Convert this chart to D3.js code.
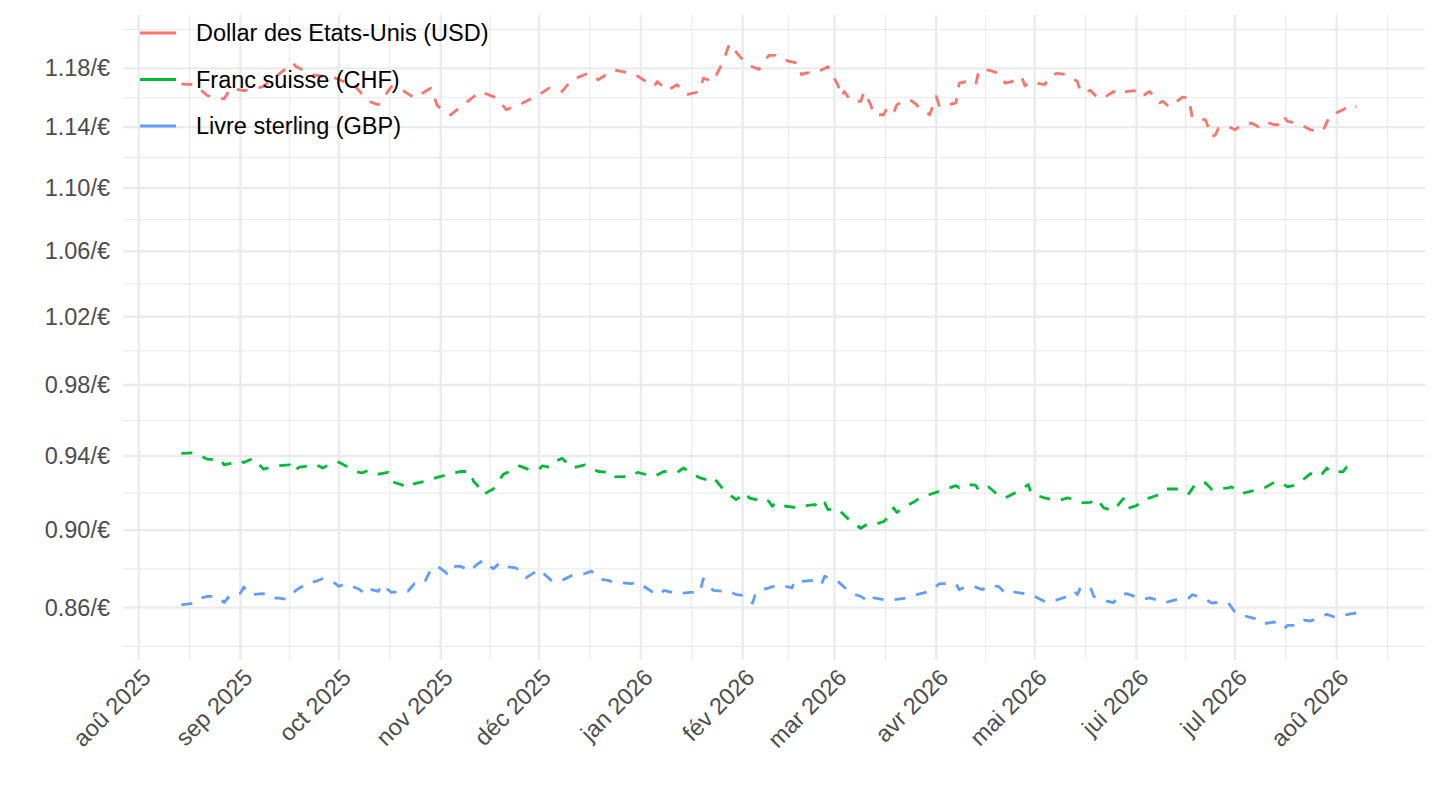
<!DOCTYPE html>
<html lang="fr">
<head>
<meta charset="utf-8">
<title>Taux de change</title>
<script src="https://cdnjs.cloudflare.com/ajax/libs/d3/7.8.5/d3.min.js"></script>
<style>
  body { margin: 0; background: #fff; }
  svg { display: block; font-family: "Liberation Sans", Arial, sans-serif; }
</style>
</head>
<body>
<div id="chart"></div>
<script>
// series names, in legend order
var seriesNames = ["Dollar des Etats-Unis (USD)", "Franc suisse (CHF)", "Livre sterling (GBP)"];
var seriesColors = ["#F8766D", "#00BA38", "#619CFF"];

// x tick labels (first of each month)
var monthTicks = ["2025-08-01", "2025-09-01", "2025-10-01", "2025-11-01", "2025-12-01", "2026-01-01",
  "2026-02-01", "2026-03-01", "2026-04-01", "2026-05-01", "2026-06-01", "2026-07-01", "2026-08-01"];
var monthLabels = ["aoû 2025", "sep 2025", "oct 2025", "nov 2025", "déc 2025", "jan 2026",
  "fév 2026", "mar 2026", "avr 2026", "mai 2026", "jui 2026", "jul 2026", "aoû 2026"];

// y ticks (rate per euro)
var rateTicks = [0.86, 0.90, 0.94, 0.98, 1.02, 1.06, 1.10, 1.14, 1.18];

// USD per euro
var usd = [
  ["2025-08-14", 1.1692], ["2025-08-18", 1.1687], ["2025-08-22", 1.1612], ["2025-08-27", 1.1590],
  ["2025-08-29", 1.1664], ["2025-09-02", 1.1646], ["2025-09-04", 1.1653], ["2025-09-08", 1.1675],
  ["2025-09-17", 1.1838], ["2025-09-18", 1.1811], ["2025-09-23", 1.1755], ["2025-09-30", 1.1732],
  ["2025-10-06", 1.1675], ["2025-10-10", 1.1574], ["2025-10-13", 1.1551], ["2025-10-17", 1.1675],
  ["2025-10-21", 1.1641], ["2025-10-24", 1.1597], ["2025-10-29", 1.1664], ["2025-10-31", 1.1544],
  ["2025-11-04", 1.1483], ["2025-11-08", 1.1551], ["2025-11-13", 1.1641], ["2025-11-18", 1.1597],
  ["2025-11-21", 1.1517], ["2025-11-26", 1.1563], ["2025-12-01", 1.1619], ["2025-12-04", 1.1664],
  ["2025-12-08", 1.1641], ["2025-12-11", 1.1721], ["2025-12-16", 1.1766], ["2025-12-19", 1.1721],
  ["2025-12-22", 1.1766], ["2025-12-24", 1.1788], ["2025-12-30", 1.1761], ["2026-01-05", 1.1675],
  ["2026-01-06", 1.1709], ["2026-01-09", 1.1646], ["2026-01-12", 1.1687], ["2026-01-15", 1.1619],
  ["2026-01-19", 1.1641], ["2026-01-20", 1.1732], ["2026-01-23", 1.1709], ["2026-01-26", 1.1845],
  ["2026-01-28", 1.1970], ["2026-01-29", 1.1958], ["2026-01-30", 1.1913], ["2026-02-02", 1.1834],
  ["2026-02-04", 1.1811], ["2026-02-06", 1.1793], ["2026-02-09", 1.1890], ["2026-02-11", 1.1890],
  ["2026-02-13", 1.1861], ["2026-02-16", 1.1845], ["2026-02-18", 1.1834], ["2026-02-19", 1.1755],
  ["2026-02-20", 1.1766], ["2026-02-24", 1.1777], ["2026-02-25", 1.1788], ["2026-02-27", 1.1811],
  ["2026-03-02", 1.1687], ["2026-03-03", 1.1607], ["2026-03-04", 1.1641], ["2026-03-06", 1.1574],
  ["2026-03-09", 1.1574], ["2026-03-10", 1.1641], ["2026-03-12", 1.1551], ["2026-03-13", 1.1483],
  ["2026-03-16", 1.1483], ["2026-03-17", 1.1529], ["2026-03-19", 1.1495], ["2026-03-20", 1.1551],
  ["2026-03-23", 1.1585], ["2026-03-24", 1.1585], ["2026-03-26", 1.1551], ["2026-03-27", 1.1522],
  ["2026-03-30", 1.1483], ["2026-04-01", 1.1607], ["2026-04-02", 1.1536], ["2026-04-07", 1.1563],
  ["2026-04-08", 1.1698], ["2026-04-10", 1.1709], ["2026-04-13", 1.1687], ["2026-04-14", 1.1788],
  ["2026-04-17", 1.1788], ["2026-04-20", 1.1766], ["2026-04-22", 1.1698], ["2026-04-24", 1.1709],
  ["2026-04-27", 1.1743], ["2026-04-28", 1.1680], ["2026-04-30", 1.1709], ["2026-05-04", 1.1687],
  ["2026-05-06", 1.1755], ["2026-05-08", 1.1766], ["2026-05-11", 1.1755], ["2026-05-14", 1.1709],
  ["2026-05-15", 1.1635], ["2026-05-18", 1.1648], ["2026-05-20", 1.1601], ["2026-05-22", 1.1597],
  ["2026-05-25", 1.1641], ["2026-05-28", 1.1619], ["2026-05-29", 1.1641], ["2026-06-02", 1.1648],
  ["2026-06-03", 1.1612], ["2026-06-05", 1.1641], ["2026-06-08", 1.1563], ["2026-06-09", 1.1574],
  ["2026-06-11", 1.1536], ["2026-06-12", 1.1551], ["2026-06-15", 1.1603], ["2026-06-17", 1.1597],
  ["2026-06-18", 1.1461], ["2026-06-22", 1.1450], ["2026-06-24", 1.1336], ["2026-06-25", 1.1348],
  ["2026-06-26", 1.1393], ["2026-06-29", 1.1404], ["2026-07-01", 1.1382], ["2026-07-03", 1.1416],
  ["2026-07-06", 1.1427], ["2026-07-08", 1.1404], ["2026-07-10", 1.1438], ["2026-07-13", 1.1416],
  ["2026-07-15", 1.1416], ["2026-07-16", 1.1468], ["2026-07-17", 1.1438], ["2026-07-20", 1.1427],
  ["2026-07-24", 1.1382], ["2026-07-27", 1.1370], ["2026-07-28", 1.1382], ["2026-07-30", 1.1483],
  ["2026-07-31", 1.1488], ["2026-08-03", 1.1517], ["2026-08-05", 1.1551], ["2026-08-07", 1.1536]
];

// CHF per euro
var chf = [
  ["2025-08-14", 0.9415], ["2025-08-18", 0.9418], ["2025-08-22", 0.9382], ["2025-08-26", 0.9382],
  ["2025-08-27", 0.9351], ["2025-08-29", 0.9360], ["2025-09-01", 0.9375], ["2025-09-02", 0.9364],
  ["2025-09-05", 0.9388], ["2025-09-08", 0.9328], ["2025-09-12", 0.9346], ["2025-09-16", 0.9351],
  ["2025-09-17", 0.9315], ["2025-09-19", 0.9339], ["2025-09-22", 0.9346], ["2025-09-24", 0.9339],
  ["2025-09-25", 0.9346], ["2025-09-26", 0.9334], ["2025-09-29", 0.9361], ["2025-10-01", 0.9366],
  ["2025-10-03", 0.9346], ["2025-10-06", 0.9315], ["2025-10-08", 0.9307], ["2025-10-10", 0.9321],
  ["2025-10-13", 0.9301], ["2025-10-16", 0.9310], ["2025-10-17", 0.9261], ["2025-10-20", 0.9244],
  ["2025-10-22", 0.9226], ["2025-10-24", 0.9249], ["2025-10-27", 0.9261], ["2025-10-31", 0.9283],
  ["2025-11-03", 0.9298], ["2025-11-07", 0.9315], ["2025-11-10", 0.9315], ["2025-11-11", 0.9261],
  ["2025-11-12", 0.9244], ["2025-11-14", 0.9190], ["2025-11-17", 0.9220], ["2025-11-19", 0.9271],
  ["2025-11-20", 0.9298], ["2025-11-24", 0.9334], ["2025-11-25", 0.9346], ["2025-11-28", 0.9325],
  ["2025-12-01", 0.9328], ["2025-12-02", 0.9346], ["2025-12-04", 0.9339], ["2025-12-05", 0.9361],
  ["2025-12-08", 0.9388], ["2025-12-11", 0.9334], ["2025-12-15", 0.9351], ["2025-12-19", 0.9315],
  ["2025-12-22", 0.9310], ["2025-12-23", 0.9285], ["2025-12-29", 0.9288], ["2025-12-31", 0.9310],
  ["2026-01-05", 0.9288], ["2026-01-08", 0.9315], ["2026-01-12", 0.9310], ["2026-01-14", 0.9334],
  ["2026-01-16", 0.9310], ["2026-01-19", 0.9280], ["2026-01-21", 0.9271], ["2026-01-23", 0.9285],
  ["2026-01-26", 0.9220], ["2026-01-28", 0.9190], ["2026-01-30", 0.9163], ["2026-02-02", 0.9199],
  ["2026-02-03", 0.9172], ["2026-02-05", 0.9163], ["2026-02-06", 0.9175], ["2026-02-09", 0.9154],
  ["2026-02-10", 0.9127], ["2026-02-11", 0.9145], ["2026-02-13", 0.9130], ["2026-02-16", 0.9123],
  ["2026-02-18", 0.9118], ["2026-02-20", 0.9130], ["2026-02-23", 0.9136], ["2026-02-25", 0.9118],
  ["2026-02-26", 0.9145], ["2026-02-27", 0.9109], ["2026-03-02", 0.9113], ["2026-03-06", 0.9046],
  ["2026-03-09", 0.9010], ["2026-03-11", 0.9032], ["2026-03-13", 0.9028], ["2026-03-16", 0.9046],
  ["2026-03-18", 0.9077], ["2026-03-19", 0.9118], ["2026-03-20", 0.9094], ["2026-03-23", 0.9130],
  ["2026-03-25", 0.9148], ["2026-03-27", 0.9172], ["2026-03-30", 0.9190], ["2026-04-02", 0.9208],
  ["2026-04-07", 0.9238], ["2026-04-08", 0.9226], ["2026-04-10", 0.9244], ["2026-04-13", 0.9241],
  ["2026-04-14", 0.9210], ["2026-04-17", 0.9231], ["2026-04-20", 0.9184], ["2026-04-22", 0.9172],
  ["2026-04-23", 0.9181], ["2026-04-25", 0.9199], ["2026-04-27", 0.9217], ["2026-04-29", 0.9244],
  ["2026-04-30", 0.9195], ["2026-05-04", 0.9172], ["2026-05-08", 0.9157], ["2026-05-11", 0.9172],
  ["2026-05-13", 0.9163], ["2026-05-15", 0.9145], ["2026-05-18", 0.9148], ["2026-05-20", 0.9167],
  ["2026-05-22", 0.9118], ["2026-05-25", 0.9104], ["2026-05-28", 0.9168], ["2026-05-29", 0.9114],
  ["2026-06-01", 0.9130], ["2026-06-03", 0.9163], ["2026-06-05", 0.9172], ["2026-06-08", 0.9190],
  ["2026-06-10", 0.9220], ["2026-06-11", 0.9220], ["2026-06-15", 0.9220], ["2026-06-17", 0.9195],
  ["2026-06-19", 0.9249], ["2026-06-22", 0.9253], ["2026-06-24", 0.9217], ["2026-06-25", 0.9220],
  ["2026-06-29", 0.9226], ["2026-06-30", 0.9231], ["2026-07-03", 0.9195], ["2026-07-06", 0.9208],
  ["2026-07-10", 0.9226], ["2026-07-13", 0.9256], ["2026-07-15", 0.9256], ["2026-07-17", 0.9231],
  ["2026-07-20", 0.9244], ["2026-07-22", 0.9274], ["2026-07-24", 0.9303], ["2026-07-27", 0.9288],
  ["2026-07-29", 0.9334], ["2026-07-30", 0.9310], ["2026-08-03", 0.9315], ["2026-08-04", 0.9339],
  ["2026-08-07", 0.9351]
];

// GBP per euro
var gbp = [
  ["2025-08-14", 0.8614], ["2025-08-18", 0.8623], ["2025-08-20", 0.8649], ["2025-08-22", 0.8657],
  ["2025-08-25", 0.8657], ["2025-08-27", 0.8626], ["2025-08-29", 0.8666], ["2025-09-01", 0.8674],
  ["2025-09-02", 0.8705], ["2025-09-04", 0.8666], ["2025-09-08", 0.8671], ["2025-09-10", 0.8649],
  ["2025-09-12", 0.8649], ["2025-09-15", 0.8643], ["2025-09-17", 0.8677], ["2025-09-19", 0.8700],
  ["2025-09-22", 0.8729], ["2025-09-24", 0.8734], ["2025-09-26", 0.8747], ["2025-09-29", 0.8734],
  ["2025-10-01", 0.8708], ["2025-10-03", 0.8722], ["2025-10-07", 0.8695], ["2025-10-09", 0.8671],
  ["2025-10-10", 0.8695], ["2025-10-13", 0.8683], ["2025-10-14", 0.8717], ["2025-10-17", 0.8677],
  ["2025-10-20", 0.8683], ["2025-10-22", 0.8683], ["2025-10-24", 0.8722], ["2025-10-27", 0.8726],
  ["2025-10-29", 0.8795], ["2025-10-31", 0.8812], ["2025-11-03", 0.8774], ["2025-11-04", 0.8808],
  ["2025-11-07", 0.8812], ["2025-11-10", 0.8786], ["2025-11-12", 0.8820], ["2025-11-14", 0.8843],
  ["2025-11-17", 0.8798], ["2025-11-19", 0.8829], ["2025-11-20", 0.8812], ["2025-11-24", 0.8803],
  ["2025-11-27", 0.8752], ["2025-12-01", 0.8795], ["2025-12-05", 0.8734], ["2025-12-08", 0.8739],
  ["2025-12-11", 0.8764], ["2025-12-15", 0.8774], ["2025-12-17", 0.8786], ["2025-12-19", 0.8747],
  ["2025-12-22", 0.8739], ["2025-12-24", 0.8729], ["2025-12-29", 0.8722], ["2025-12-31", 0.8729],
  ["2026-01-05", 0.8674], ["2026-01-07", 0.8666], ["2026-01-08", 0.8688], ["2026-01-12", 0.8671],
  ["2026-01-14", 0.8674], ["2026-01-16", 0.8677], ["2026-01-19", 0.8677], ["2026-01-20", 0.8747],
  ["2026-01-23", 0.8688], ["2026-01-26", 0.8683], ["2026-01-28", 0.8683], ["2026-01-30", 0.8666],
  ["2026-02-02", 0.8660], ["2026-02-04", 0.8623], ["2026-02-05", 0.8674], ["2026-02-06", 0.8688],
  ["2026-02-09", 0.8700], ["2026-02-12", 0.8717], ["2026-02-16", 0.8700], ["2026-02-17", 0.8739],
  ["2026-02-19", 0.8734], ["2026-02-23", 0.8739], ["2026-02-25", 0.8717], ["2026-02-26", 0.8760],
  ["2026-03-02", 0.8734], ["2026-03-06", 0.8674], ["2026-03-09", 0.8657], ["2026-03-12", 0.8626],
  ["2026-03-13", 0.8649], ["2026-03-16", 0.8640], ["2026-03-19", 0.8640], ["2026-03-23", 0.8649],
  ["2026-03-26", 0.8666], ["2026-03-30", 0.8683], ["2026-04-02", 0.8722], ["2026-04-07", 0.8722],
  ["2026-04-08", 0.8691], ["2026-04-10", 0.8708], ["2026-04-13", 0.8704], ["2026-04-15", 0.8691],
  ["2026-04-17", 0.8712], ["2026-04-20", 0.8708], ["2026-04-22", 0.8674], ["2026-04-23", 0.8683],
  ["2026-04-27", 0.8674], ["2026-04-30", 0.8666], ["2026-05-04", 0.8631], ["2026-05-08", 0.8640],
  ["2026-05-11", 0.8657], ["2026-05-13", 0.8683], ["2026-05-14", 0.8666], ["2026-05-15", 0.8705],
  ["2026-05-18", 0.8700], ["2026-05-19", 0.8657], ["2026-05-21", 0.8640], ["2026-05-25", 0.8626],
  ["2026-05-27", 0.8666], ["2026-05-29", 0.8671], ["2026-06-01", 0.8654], ["2026-06-03", 0.8643],
  ["2026-06-05", 0.8649], ["2026-06-08", 0.8636], ["2026-06-10", 0.8626], ["2026-06-12", 0.8636],
  ["2026-06-15", 0.8649], ["2026-06-17", 0.8649], ["2026-06-18", 0.8666], ["2026-06-22", 0.8643],
  ["2026-06-24", 0.8623], ["2026-06-25", 0.8626], ["2026-06-29", 0.8623], ["2026-07-01", 0.8579],
  ["2026-07-02", 0.8567], ["2026-07-06", 0.8550], ["2026-07-09", 0.8537], ["2026-07-10", 0.8520],
  ["2026-07-13", 0.8528], ["2026-07-16", 0.8494], ["2026-07-17", 0.8511], ["2026-07-20", 0.8511],
  ["2026-07-22", 0.8537], ["2026-07-24", 0.8533], ["2026-07-27", 0.8550], ["2026-07-29", 0.8567],
  ["2026-07-31", 0.8554], ["2026-08-03", 0.8562], ["2026-08-07", 0.8574]
];

var width = 1440, height = 810;
var panel = { left: 123, right: 1425, top: 15, bottom: 660 };
var parseDate = d3.utcParse("%Y-%m-%d");
var fontSize = "23.5px";

var svg = d3.select("#chart").append("svg")
  .attr("width", width)
  .attr("height", height)
  .style("background", "#fff");

// x: time, panel runs a bit past the first and last month
var xScale = d3.scaleUtc()
  .domain([new Date(Date.UTC(2025, 6, 27, 5)), new Date(Date.UTC(2026, 7, 27, 22))])
  .range([panel.left, panel.right]);

// y: log scale
var yScale = d3.scaleLog()
  .domain([0.834, 1.2175])
  .range([panel.bottom, panel.top]);

// grid lines ---------------------------------------------------------
var xMajor = monthTicks.map(function(s) { return xScale(parseDate(s)); });
var xMinor = [];
var xStep = xMajor[1] - xMajor[0];
var xExt = [xMajor[0] - xStep].concat(xMajor, [xMajor[xMajor.length - 1] + xStep]);
for (var i = 0; i < xExt.length - 1; i++) xMinor.push((xExt[i] + xExt[i + 1]) / 2);
xMinor = xMinor.filter(function(x) { return x >= panel.left && x <= panel.right; });

var yMajor = rateTicks.map(function(v) { return yScale(v); });
var yStep = yMajor[1] - yMajor[0];
var yExt = [yMajor[0] - yStep].concat(yMajor, [yMajor[yMajor.length - 1] + yStep]);
var yMinor = [];
for (var j = 0; j < yExt.length - 1; j++) yMinor.push((yExt[j] + yExt[j + 1]) / 2);
yMinor = yMinor.filter(function(y) { return y >= panel.top && y <= panel.bottom; });

var grid = svg.append("g");
grid.selectAll(".yminor").data(yMinor).enter().append("line")
  .attr("x1", panel.left).attr("x2", panel.right)
  .attr("y1", function(d) { return d; }).attr("y2", function(d) { return d; })
  .attr("stroke", "#EBEBEB").attr("stroke-width", 1.2);
grid.selectAll(".xminor").data(xMinor).enter().append("line")
  .attr("y1", panel.top).attr("y2", panel.bottom)
  .attr("x1", function(d) { return d; }).attr("x2", function(d) { return d; })
  .attr("stroke", "#EBEBEB").attr("stroke-width", 1.2);
grid.selectAll(".ymajor").data(yMajor).enter().append("line")
  .attr("x1", panel.left).attr("x2", panel.right)
  .attr("y1", function(d) { return d; }).attr("y2", function(d) { return d; })
  .attr("stroke", "#EBEBEB").attr("stroke-width", 2.4);
grid.selectAll(".xmajor").data(xMajor).enter().append("line")
  .attr("y1", panel.top).attr("y2", panel.bottom)
  .attr("x1", function(d) { return d; }).attr("x2", function(d) { return d; })
  .attr("stroke", "#EBEBEB").attr("stroke-width", 2.4);

// axes (no domain line, no ticks, like theme_minimal) ----------------
var yAxis = d3.axisLeft(yScale)
  .tickValues(rateTicks)
  .tickSize(0)
  .tickPadding(13)
  .tickFormat(function(d) { return d3.format(".2f")(d) + "/€"; });
svg.append("g")
  .attr("transform", "translate(" + panel.left + ",0)")
  .call(yAxis)
  .call(function(g) { g.select(".domain").remove(); })
  .selectAll("text")
  .attr("fill", "#4D4D4D")
  .style("font-size", fontSize)
  .style("font-family", "'Liberation Sans', Arial, sans-serif");

var xAxis = d3.axisBottom(xScale)
  .tickValues(monthTicks.map(parseDate))
  .tickSize(0)
  .tickFormat(function(d, i) { return monthLabels[i]; });
svg.append("g")
  .attr("transform", "translate(0," + panel.bottom + ")")
  .call(xAxis)
  .call(function(g) { g.select(".domain").remove(); })
  .selectAll("text")
  .attr("fill", "#4D4D4D")
  .style("font-size", fontSize)
  .style("font-family", "'Liberation Sans', Arial, sans-serif")
  .attr("text-anchor", "end")
  .attr("y", 0)
  .attr("dy", "0.72em")
  .attr("transform", "translate(1,7) rotate(-45)");

// lines --------------------------------------------------------------
var line = d3.line()
  .x(function(d) { return xScale(parseDate(d[0])); })
  .y(function(d) { return yScale(d[1]); });

var allSeries = [usd, chf, gbp];
svg.append("g").selectAll("path")
  .data(allSeries)
  .enter().append("path")
  .attr("d", line)
  .attr("fill", "none")
  .attr("stroke", function(d, i) { return seriesColors[i]; })
  .attr("stroke-width", 2.8)
  .attr("stroke-dasharray", "11,11")
  .attr("stroke-linejoin", "round");

// legend (inside the panel, top left) --------------------------------
var legend = svg.append("g").attr("transform", "translate(140,33)");
var items = legend.selectAll("g")
  .data(seriesNames)
  .enter().append("g")
  .attr("transform", function(d, i) { return "translate(0," + (i * 46.5) + ")"; });
items.append("line")
  .attr("x1", 0).attr("x2", 36)
  .attr("stroke", function(d, i) { return seriesColors[i]; })
  .attr("stroke-width", 2.8);
items.append("text")
  .attr("x", 56)
  .attr("dy", "0.35em")
  .style("font-size", fontSize)
  .attr("fill", "#000")
  .text(function(d) { return d; });
</script>
</body>
</html>
